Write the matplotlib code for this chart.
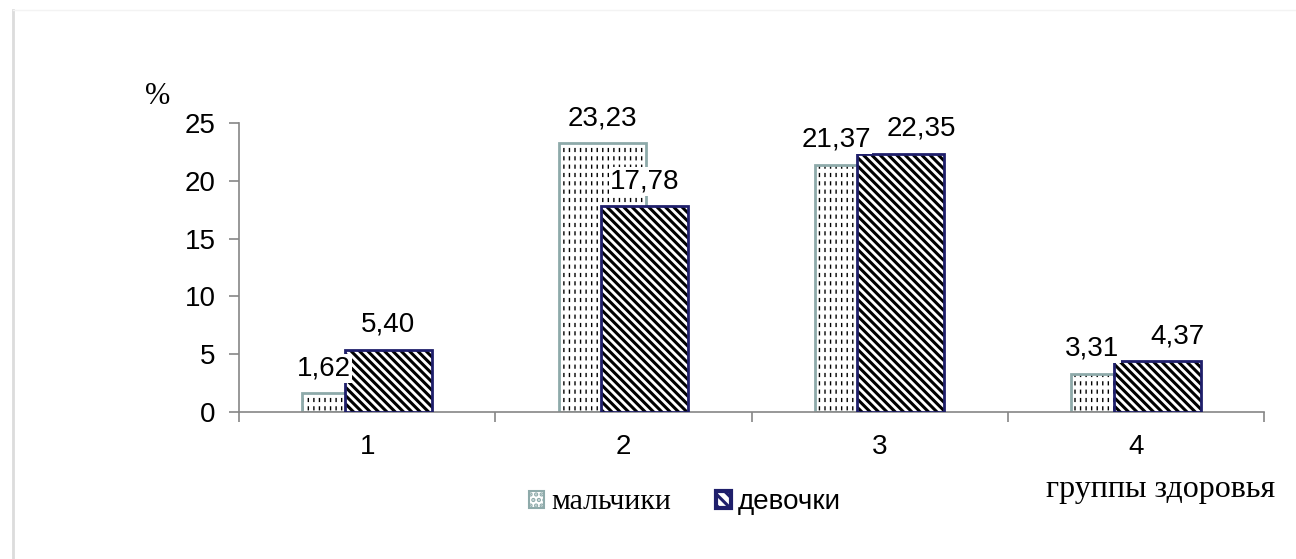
import numpy as np
import matplotlib
matplotlib.use("Agg")
import matplotlib.pyplot as plt
from matplotlib.patches import Patch
from matplotlib.lines import Line2D

groups = ["1", "2", "3", "4"]
boys = [1.62, 23.23, 21.37, 3.31]
girls = [5.40, 17.78, 22.35, 4.37]
series_names = ["мальчики", "девочки"]
y_ticks = [0, 5, 10, 15, 20, 25]

plt.rcParams["hatch.linewidth"] = 2.2

fig = plt.figure(figsize=(12.96, 5.59), dpi=100)
ax = fig.add_axes([239 / 1296, 1 - 412 / 559, (1264 - 239) / 1296, (412 - 123) / 559])

x = np.arange(1, len(groups) + 1)
w = 0.34
off = 0.083
boy_edge = "#8eaaaa"
girl_edge = "#1f1f6b"


def hatch_lw(bars, lw):
    for b in bars:
        if hasattr(b, "set_hatch_linewidth"):
            b.set_hatch_linewidth(lw)


# boys: thin vertical lines cut by white horizontal ones -> short dashes
hatch_lw(ax.bar(x - off, boys, w, color="white", edgecolor="black", hatch="|||",
                linewidth=0, zorder=2), 1.0)
hatch_lw(ax.bar(x - off, boys, w, fill=False, edgecolor="white", hatch="--",
                linewidth=0, zorder=2), 3.0)
ax.bar(x - off, boys, w, fill=False, edgecolor=boy_edge, linewidth=2, zorder=2)
# girls on top
ax.bar(x + off, girls, w, color="white", edgecolor="black", hatch="\\\\\\\\", linewidth=0, zorder=3)
ax.bar(x + off, girls, w, fill=False, edgecolor=girl_edge, linewidth=2, zorder=3)

fmt = lambda v: f"{v:.2f}".replace(".", ",")
lab = dict(textcoords="offset points", ha="center", va="center", fontsize=20,
           family="Liberation Sans", bbox=dict(facecolor="white", edgecolor="none", pad=1), zorder=4)
for i in range(len(groups)):
    gx = x[i] + off
    if boys[i] < girls[i]:
        bx = x[i] - off - w / 2 + off  # middle of the visible part
        if girls[i] - boys[i] < 2:
            gx += 0.08  # keep the two labels apart
    else:
        bx = x[i] - off
    ax.annotate(fmt(boys[i]), (bx, boys[i]), xytext=(0, 18), **lab)
    ax.annotate(fmt(girls[i]), (gx, girls[i]), xytext=(0, 18), **lab)

ax.set_xlim(0.5, len(groups) + 0.5)
ax.set_ylim(0, 25)
ax.set_yticks(y_ticks)
ax.set_yticklabels([str(t) for t in y_ticks], family="Liberation Sans", fontsize=20)
ax.set_xticks(np.arange(0.5, len(groups) + 1, 1))
ax.set_xticklabels([])
ax.set_xticks(x, minor=True)
ax.set_xticklabels(groups, minor=True, family="Liberation Sans", fontsize=20)
ax.tick_params(axis="x", which="minor", length=0, pad=16)
ax.tick_params(axis="x", which="major", length=7, color="#868686", width=1.2)
ax.tick_params(axis="y", length=7, color="#868686", width=1.2, pad=10)

for s in ["top", "right"]:
    ax.spines[s].set_visible(False)
for s in ["left", "bottom"]:
    ax.spines[s].set_color("#868686")
    ax.spines[s].set_linewidth(1.2)

fig.text(158 / 1296, 1 - 96 / 559, "%", family="Liberation Serif", fontsize=22,
         ha="center", va="center")
fig.text(1275 / 1296, 1 - 490 / 559, "группы здоровья", family="Liberation Serif",
         fontsize=23, ha="right", va="center")

handles = [Patch(facecolor="white", edgecolor=boy_edge, hatch="...", linewidth=1.5),
           Patch(facecolor="white", edgecolor=girl_edge, hatch="\\\\\\", linewidth=3)]
leg = fig.legend(handles, series_names, loc="center", bbox_to_anchor=(685 / 1296, 1 - 502 / 559),
                 ncol=2, frameon=False, fontsize=20, handlelength=0.55, handleheight=0.55,
                 handletextpad=0.25, columnspacing=1.6)
leg.get_texts()[0].set_family("Liberation Serif")
leg.get_texts()[0].set_fontsize(21.5)
leg.get_texts()[1].set_family("Liberation Sans")

# faint frame of the chart box
fig.add_artist(Line2D([13 / 1296, 13 / 1296], [0, 1 - 10 / 559], color="#dcdcdc", lw=2))
fig.add_artist(Line2D([13 / 1296, 1], [1 - 10 / 559, 1 - 10 / 559], color="#f3f3f3", lw=1))

fig.savefig("out.png", dpi=100, facecolor="white")
